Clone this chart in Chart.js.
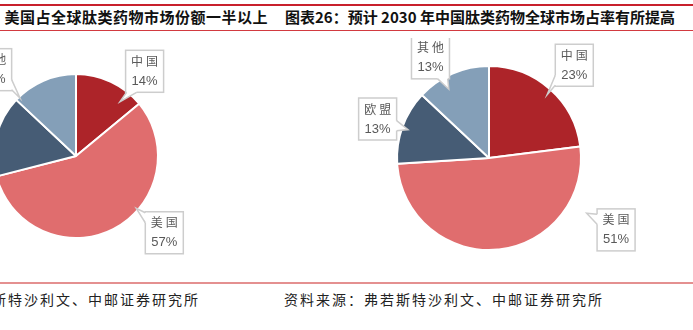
<!DOCTYPE html>
<html>
<head>
<meta charset="utf-8">
<script src="https://cdn.jsdelivr.net/npm/chart.js@4"></script>
<style>
  html, body { margin: 0; padding: 0; background: #fff; }
  body { width: 693px; height: 330px; position: relative; overflow: hidden; font-family: "Noto Sans CJK SC", sans-serif; }
  .rule { position: absolute; left: 0; width: 693px; }
  .title { position: absolute; top: 7px; font-size: 15px; font-weight: bold; color: #111; white-space: nowrap; letter-spacing: 0.5px; line-height: 20px; }
  .source { position: absolute; top: 289px; font-size: 14px; color: #222; white-space: nowrap; letter-spacing: 2px; line-height: 20px; }
  canvas { position: absolute; }
</style>
</head>
<body>
<div class="rule" style="top:4px;height:2px;background:#c8202c;"></div>
<div class="rule" style="top:30px;height:1px;background:#d23a40;"></div>
<div class="rule" style="top:282px;height:2px;background:#e49090;"></div>

<div class="title" style="right:425px;text-align:right;">图表25：美国占全球肽类药物市场份额一半以上</div>
<div class="title" style="left:285px;letter-spacing:0px;">图表26：预计 2030 年中国肽类药物全球市场占率有所提高</div>

<div class="source" style="right:493px;text-align:right;">资料来源：弗若斯特沙利文、中邮证券研究所</div>
<div class="source" style="left:284px;">资料来源：弗若斯特沙利文、中邮证券研究所</div>

<canvas id="pieNow" width="300" height="240" style="left:-74px;top:36px;"></canvas>
<canvas id="pie2030" width="320" height="240" style="left:329px;top:38px;"></canvas>

<script>
// data
const regions = ['中国', '美国', '欧盟', '其他'];
const shareNow = [14, 57, 16, 13];
const share2030 = [23, 51, 13, 13];

const sliceColors = ['#ad2429', '#e06d6e', '#465c75', '#849fb8'];

// label placement: [angle clockwise from top in deg, distance from centre in px]
const labelsNow = [[39, 109], [131, 117], [265, 130], [316, 120]];
const labels2030 = [[42.6, 126], [119.5, 146], [289.3, 118], [329.7, 116]];

// callout boxes like the excel data labels
const calloutPlugin = {
    id: 'callouts',
    afterDatasetsDraw(chart, args, opts) {
        const ctx = chart.ctx;
        const meta = chart.getDatasetMeta(0);
        const values = chart.data.datasets[0].data;
        const bw = 38, bh = 42;
        meta.data.forEach((arc, i) => {
            const [deg, dist] = opts.layout[i];
            const a = deg * Math.PI / 180;
            const cx = arc.x + dist * Math.sin(a);
            const cy = arc.y - dist * Math.cos(a);
            const left = cx - bw / 2, top = cy - bh / 2;

            ctx.save();
            ctx.fillStyle = '#fff';
            ctx.strokeStyle = '#cdcdcd';
            ctx.lineWidth = 1.5;
            ctx.fillRect(left, top, bw, bh);
            ctx.strokeRect(left, top, bw, bh);

            // tail pointing back to the pie
            let dx = arc.x - cx, dy = arc.y - cy;
            const len = Math.hypot(dx, dy);
            dx /= len; dy /= len;
            const tx = dx !== 0 ? (bw / 2) / Math.abs(dx) : Infinity;
            const ty = dy !== 0 ? (bh / 2) / Math.abs(dy) : Infinity;
            const t = Math.min(tx, ty);
            const ex = cx + dx * t, ey = cy + dy * t;
            let b1, b2, in1, in2;
            if (tx < ty) {
                const yy = Math.max(top + 6, Math.min(top + bh - 6, ey));
                const s = Math.sign(dx);
                b1 = [ex, yy - 5]; b2 = [ex, yy + 5];
                in1 = [ex - s * 1.5, yy - 5]; in2 = [ex - s * 1.5, yy + 5];
            } else {
                const xx = Math.max(left + 6, Math.min(left + bw - 6, ex));
                const s = Math.sign(dy);
                b1 = [xx - 5, ey]; b2 = [xx + 5, ey];
                in1 = [xx - 5, ey - s * 1.5]; in2 = [xx + 5, ey - s * 1.5];
            }
            const tip = [ex + dx * 12, ey + dy * 12];
            ctx.beginPath();
            ctx.moveTo(in1[0], in1[1]);
            ctx.lineTo(b1[0], b1[1]);
            ctx.lineTo(tip[0], tip[1]);
            ctx.lineTo(b2[0], b2[1]);
            ctx.lineTo(in2[0], in2[1]);
            ctx.closePath();
            ctx.fill();
            ctx.beginPath();
            ctx.moveTo(b1[0], b1[1]);
            ctx.lineTo(tip[0], tip[1]);
            ctx.lineTo(b2[0], b2[1]);
            ctx.stroke();

            // text
            ctx.fillStyle = '#595959';
            ctx.textAlign = 'center';
            ctx.textBaseline = 'middle';
            ctx.font = '12px "Noto Sans CJK SC", sans-serif';
            ctx.letterSpacing = '3px';
            ctx.fillText(chart.data.labels[i], cx + 1.5, cy - 10);
            ctx.letterSpacing = '0px';
            ctx.font = '13px "Liberation Sans Narrow", "Liberation Sans", sans-serif';
            ctx.fillText(values[i] + '%', cx, cy + 10);
            ctx.restore();
        });
    }
};

function makePie(id, values, radius, layout) {
    const ctx = document.getElementById(id).getContext('2d');
    return new Chart(ctx, {
        type: 'pie',
        data: {
            labels: regions,
            datasets: [{
                data: values,
                backgroundColor: sliceColors,
                borderColor: '#ffffff',
                borderWidth: 2,
                radius: radius
            }]
        },
        options: {
            responsive: false,
            animation: false,
            events: [],
            layout: { padding: 0 },
            plugins: {
                legend: { display: false },
                tooltip: { enabled: false },
                callouts: { layout: layout }
            }
        },
        plugins: [calloutPlugin]
    });
}

makePie('pieNow', shareNow, 82, labelsNow);
makePie('pie2030', share2030, 92, labels2030);
</script>
</body>
</html>
